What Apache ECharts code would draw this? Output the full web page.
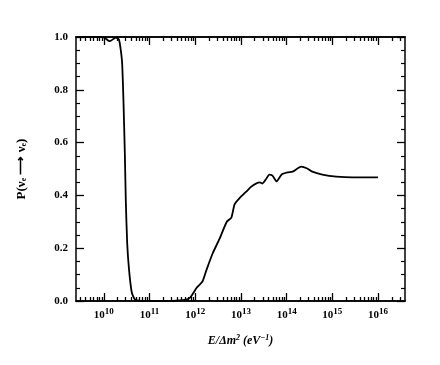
<!DOCTYPE html>
<html>
<head>
<meta charset="utf-8">
<script src="https://cdn.jsdelivr.net/npm/echarts@6/dist/echarts.min.js"></script>
<style>
  html, body { margin: 0; padding: 0; background: #fff; }
  #chart { width: 440px; height: 365px; }
</style>
</head>
<body>
<div id="chart"></div>
<script>
// x values are log10(E/dm^2)
const logE = [9.4, 9.8, 9.98, 10.13, 10.26, 10.33, 10.37, 10.40, 10.43, 10.46, 10.48, 10.51, 10.55, 10.61, 10.68, 10.8, 11.4, 11.72,
    11.88, 12.03, 12.16, 12.25, 12.38, 12.53, 12.69, 12.79, 12.86, 12.97, 13.12, 13.23, 13.41, 13.47, 13.55, 13.62, 13.69, 13.78,
    13.89, 14.02, 14.13, 14.32, 14.45, 14.56, 14.78, 15.09, 15.44, 16.0];
const prob = [1.0, 1.0, 1.0, 0.984, 0.998, 0.99, 0.95, 0.90, 0.75, 0.55, 0.38, 0.22, 0.12, 0.033, 0.006, 0.0, 0.0, 0.003,
    0.012, 0.05, 0.075, 0.12, 0.18, 0.235, 0.30, 0.316, 0.366, 0.39, 0.415, 0.434, 0.449, 0.445, 0.462, 0.479, 0.475, 0.453,
    0.479, 0.487, 0.49, 0.509, 0.502, 0.49, 0.479, 0.471, 0.468, 0.468];

const decades = [10, 11, 12, 13, 14, 15, 16];

const xMin = 9.39, xMax = 16.59;
const font = "Liberation Serif";

// minor log ticks (2..9 inside each decade)
let minorX = [];
for (let d = 9; d <= 16; d++) {
    for (let k = 2; k <= 9; k++) {
        let v = d + Math.log10(k);
        if (v > xMin && v < xMax) minorX.push(v);
    }
}

function xAxisDef(pos, ticks, len, showLabel) {
    return {
        type: "value", position: pos, min: xMin, max: xMax,
        axisLine: { show: true, onZero: false, lineStyle: { color: "#000", width: 1.5 } },
        splitLine: { show: false },
        axisTick: { show: true, inside: true, length: len, customValues: ticks, lineStyle: { color: "#000", width: 1.3 } },
        axisLabel: showLabel ? {
            show: true, customValues: decades, margin: 6, color: "#000",
            fontFamily: font, fontWeight: "bold", fontSize: 11,
            formatter: v => "10{sup|" + Math.round(v) + "}",
            rich: { sup: { fontSize: 9, fontFamily: font, fontWeight: "bold", color: "#000", verticalAlign: "top", padding: [0, 0, 7, 0] } }
        } : { show: false }
    };
}

function yAxisDef(pos, showLabel) {
    return {
        type: "value", position: pos, min: 0, max: 1, interval: 0.2,
        axisLine: { show: true, lineStyle: { color: "#000", width: 1.5 } },
        splitLine: { show: false },
        axisTick: { show: true, inside: true, length: 8, lineStyle: { color: "#000", width: 1.3 } },
        minorTick: { show: true, splitNumber: 4, length: 4, lineStyle: { color: "#000", width: 1.2 } },
        axisLabel: showLabel ? {
            show: true, margin: 8, color: "#000", fontFamily: font, fontWeight: "bold", fontSize: 11,
            formatter: v => v.toFixed(1)
        } : { show: false }
    };
}

let chart = echarts.init(document.getElementById("chart"));
chart.setOption({
    animation: false,
    backgroundColor: "#fff",
    grid: { left: 76, right: 35, top: 37, bottom: 64 },
    xAxis: [
        Object.assign(xAxisDef("bottom", decades, 8, true), {
            name: "E/\u0394m{sup|2} (eV{sup|\u22121})",
            nameLocation: "middle", nameGap: 33,
            nameTextStyle: {
                fontFamily: font, fontStyle: "italic", fontWeight: "bold", fontSize: 12, color: "#000",
                rich: { sup: { fontSize: 8, fontFamily: font, fontStyle: "italic", fontWeight: "bold", verticalAlign: "top", padding: [0, 0, 6, 0] } }
            }
        }),
        xAxisDef("bottom", minorX, 4, false),
        xAxisDef("top", decades, 8, false),
        xAxisDef("top", minorX, 4, false)
    ],
    yAxis: [
        Object.assign(yAxisDef("left", true), {
            name: "P(\u03bd{sub|e} \u27f6 \u03bd{sub|e})",
            nameLocation: "middle", nameGap: 48, nameRotate: 90,
            nameTextStyle: {
                fontFamily: font, fontWeight: "bold", fontSize: 13, color: "#000",
                rich: { sub: { fontSize: 8, fontFamily: font, fontWeight: "bold", verticalAlign: "bottom", padding: [5, 0, 0, 0] } }
            }
        }),
        yAxisDef("right", false)
    ],
    series: [{
        type: "line",
        xAxisIndex: 0,
        yAxisIndex: 0,
        data: logE.map((x, i) => [x, prob[i]]),
        showSymbol: false,
        smooth: 0.2,
        lineStyle: { color: "#000", width: 1.8 }
    }]
});
</script>
</body>
</html>
